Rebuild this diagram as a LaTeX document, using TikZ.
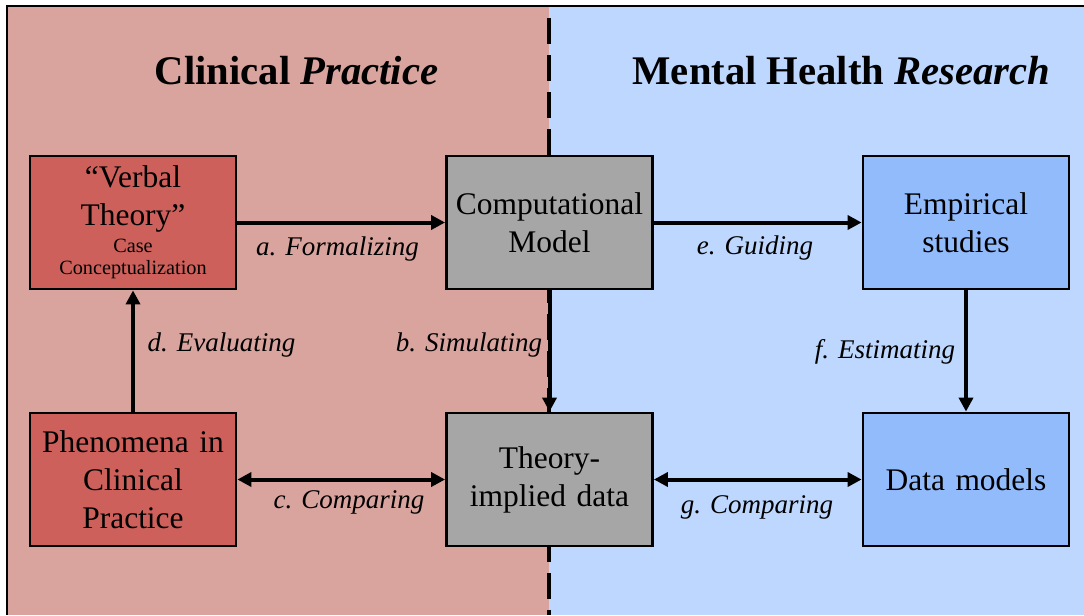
\documentclass[tikz,border=0pt]{standalone}
\usepackage{fontspec}
\setmainfont{Liberation Serif}
\usetikzlibrary{arrows.meta}
\definecolor{pinkbg}{RGB}{217,163,158}
\definecolor{bluebg}{RGB}{189,215,254}
\definecolor{redbox}{RGB}{205,96,91}
\definecolor{graybox}{RGB}{166,166,166}
\definecolor{bluebox}{RGB}{146,187,252}
\begin{document}
\begin{tikzpicture}[x=0.75pt,y=-0.75pt,
  box/.style={draw=black,line width=2.1pt,minimum width=154.5pt,minimum height=99.75pt,
    text width=150pt,align=center,inner sep=0pt,font=\fontsize{23.6}{28.5}\selectfont},
  redb/.style={box,fill=redbox},
  grayb/.style={box,fill=graybox},
  blueb/.style={box,fill=bluebox},
  conn/.style={line width=3pt,-{Triangle[length=10.5pt,width=10.5pt]}},
  dconn/.style={line width=3pt,{Triangle[length=10.5pt,width=10.5pt]}-{Triangle[length=10.5pt,width=10.5pt]}},
  lbl/.style={font=\fontsize{20.25}{24}\selectfont\itshape,inner sep=0pt},
  ttl/.style={font=\fontsize{30.5}{36}\selectfont\bfseries,inner sep=0pt}]
\useasboundingbox (0,0) rectangle (1084,615);
\fill[white] (0,0) rectangle (1084,615);
\fill[pinkbg] (7,6) rectangle (549,615);
\fill[bluebg] (549,6) rectangle (1084,615);
\draw[line width=1.8pt] (7,615) -- (7,6) -- (1084,6);
\draw[line width=2.3pt,dash pattern=on 19.5pt off 8.25pt] (549,18) -- (549,615);

\node[ttl] (t1) at (296.5,71) {Clinical \textit{Practice}};
\node[ttl] (t2) at (841.5,71) {Mental Health \textit{Research}};

\node[redb] (vt) at (133,222.5) {\raisebox{0pt}[0pt][0pt]{}“Verbal\\Theory”\par\vspace{4pt}{\fontsize{15.2}{16.5}\selectfont Case\\Conceptualization\par}};
\node[grayb] (cm) at (549.5,222.5) {Computational\\Model};
\node[blueb] (es) at (966,222.5) {Empirical\\studies};
\node[redb] (ph) at (133,479.5) {Phenomena in\\Clinical\\Practice};
\node[grayb] (tid) at (549.5,479.5) {Theory-\\implied data};
\node[blueb] (dm) at (966,479.5) {Data models};

\draw[conn] (vt.east) -- (cm.west);
\draw[conn] (cm.east) -- (es.west);
\draw[conn] (cm.south) -- (tid.north);
\draw[conn] (ph.north) -- (vt.south);
\draw[conn] (es.south) -- (dm.north);
\draw[dconn] (ph.east) -- (tid.west);
\draw[dconn] (tid.east) -- (dm.west);

\node[lbl] (la) at (337.5,249) {a. Formalizing};
\node[lbl] (le) at (755,248) {e. Guiding};
\node[lbl] (lb) at (469,345) {b. Simulating};
\node[lbl] (ld) at (221.5,345) {d. Evaluating};
\node[lbl] (lf) at (885,352) {f. Estimating};
\node[lbl] (lc) at (349,502) {c. Comparing};
\node[lbl] (lg) at (757,507) {g. Comparing};
\end{tikzpicture}
\end{document}
